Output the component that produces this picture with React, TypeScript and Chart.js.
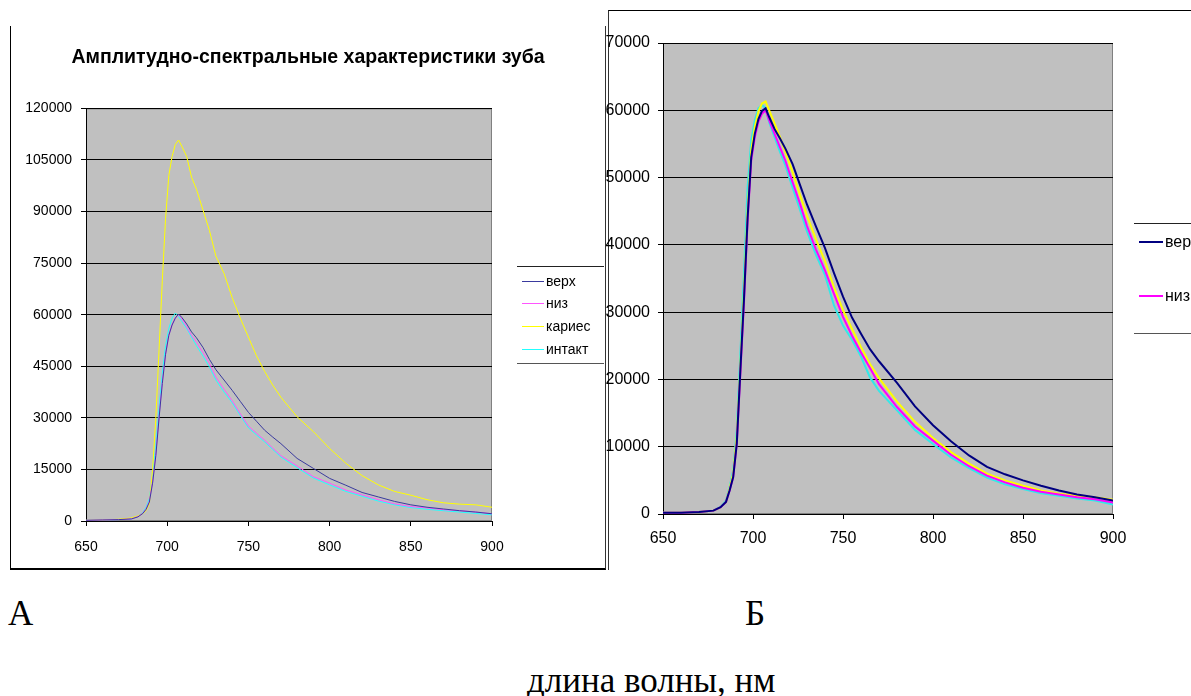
import React, { useEffect, useRef } from "react";
import { Chart, registerables } from "chart.js";

Chart.register(...registerables);

// Wavelength grid, nm
const wavelengthNm = [
  650, 660, 670, 678, 682, 685, 687, 689, 691, 693, 695, 697, 699, 701, 703,
  705, 707, 709, 712, 715, 718, 722, 726, 730, 735, 740, 745, 750, 755, 760,
  765, 770, 780, 790, 800, 810, 820, 830, 840, 850, 860, 870, 880, 890, 900,
];

const seriesLabels = ["верх", "низ", "кариес", "интакт"];

// Panel А: amplitude spectra, including the carious area
const verkhA = [
  200, 300, 400, 600, 1200, 2200, 3400, 5500, 11000, 19000, 30000, 40000, 48500, 54000, 57000,
  59000, 60200, 59200, 57300, 55000, 53300, 50500, 47000, 44000, 41000, 38000, 34800, 31600, 29000, 26400,
  24400, 22500, 18200, 15300, 12400, 10400, 8300, 7000, 5700, 4700, 4000, 3500, 3000, 2600, 2100,
];
const nizA = [
  200, 300, 400, 600, 1300, 2300, 3600, 5800, 11500, 19500, 30500, 40500, 48500, 54000, 57000,
  59000, 60000, 58800, 56500, 54000, 52000, 49000, 45800, 41800, 38300, 35000, 31200, 27600, 25500, 23500,
  21200, 19000, 16000, 12900, 11000, 9000, 7600, 6200, 5000, 4200, 3800, 3300, 3000, 2600, 2100,
];
const kariesA = [
  200, 300, 500, 900, 1500, 2200, 3000, 5000, 15000, 30000, 50000, 70000, 88000, 100500, 106000,
  109500, 110800, 109000, 106000, 100000, 96500, 90500, 84500, 77000, 72000, 65000, 59000, 53500, 48000, 43500,
  39500, 36000, 30300, 26000, 21100, 16800, 13200, 10500, 8600, 7500, 6200, 5300, 4900, 4700, 4000,
];
const intaktA = [
  200, 300, 400, 600, 1400, 2500, 4000, 6500, 13000, 22000, 33000, 43000, 51000, 56000, 59000,
  60500, 59500, 58000, 56000, 53500, 51000, 48000, 44800, 41000, 37500, 34400, 30700, 27100, 25000, 23000,
  20800, 18600, 15500, 12500, 10500, 8600, 7200, 5800, 4700, 3900, 3400, 3000, 2600, 2200, 1800,
];

// Panel Б
const verkhB = [
  200, 200, 300, 500, 1000, 1800, 3500, 5500, 10500, 21500, 32000, 44000, 53000, 56500, 58700,
  59900, 60300, 59000, 57200, 55800, 54300, 52000, 49000, 46000, 42700, 39500, 35800, 32300, 29200, 26800,
  24500, 22700, 19500, 16000, 13200, 10800, 8700, 7000, 5900, 5000, 4200, 3500, 2900, 2500, 2000,
];
const nizB = [
  200, 200, 300, 500, 1000, 1800, 3500, 5500, 10500, 21000, 31500, 43500, 52500, 56000, 58300,
  59500, 60000, 58500, 56500, 54500, 52500, 49300, 46200, 42800, 39300, 36200, 32700, 29300, 26500, 24000,
  21700, 19300, 15900, 13000, 10900, 8800, 7100, 5700, 4700, 3900, 3300, 2900, 2500, 2200, 1700,
];
const kariesB = [
  200, 200, 300, 500, 1000, 1800, 3800, 6000, 11500, 22000, 33000, 45000, 54000, 57500, 59800,
  61000, 61300, 60000, 58000, 56000, 53800, 50800, 47500, 44300, 40800, 37600, 33700, 30300, 27500, 24800,
  22300, 20200, 16700, 13700, 11300, 9200, 7500, 6000, 5000, 4200, 3500, 3000, 2700, 2500, 2100,
];
const intaktB = [
  200, 200, 300, 500, 1100, 2000, 4000, 6500, 12500, 24000, 36000, 48500, 55500, 58500, 60300,
  60800, 60300, 58200, 56000, 53800, 51800, 48500, 45300, 42000, 38500, 35500, 31000, 28000, 25900, 23400,
  20300, 18300, 15400, 12500, 10400, 8400, 6800, 5400, 4400, 3700, 3100, 2700, 2300, 2000, 1400,
];

const waveMin = 650;
const waveMax = 900;
const waveStep = 50;
const yMaxA = 120000;
const yStepA = 15000;
const yMaxB = 70000;
const yStepB = 10000;

const titleA = "Амплитудно-спектральные характеристики зуба";
const captionX = "длина волны, нм";

const colorsA = ["#3a3a9e", "#ff55ff", "#ffff00", "#22ffff"];
const colorsB = ["#000080", "#ff00ff", "#ffff00", "#33e8e8"];

const SANS = "'Liberation Sans', Arial, sans-serif";
const SERIF = "'Liberation Serif', 'Times New Roman', serif";

type PanelSpec = {
  width: number;
  height: number;
  series: number[][];
  colors: string[];
  lineWidth: number;
  yMax: number;
  yStep: number;
  fontSize: number;
  yAxisWidth: number;
  rightSpace: number;
  xAxisHeight: number;
  xTickPad: number;
  yTickPad: number;
  topPad: number;
  title?: string;
  titleSize?: number;
  titlePadTop?: number;
  titlePadBottom?: number;
};

const plotArea = {
  id: "plotArea",
  beforeDraw(chart: any) {
    const { ctx, chartArea: a } = chart;
    ctx.save();
    ctx.fillStyle = "#c0c0c0";
    ctx.fillRect(a.left, a.top, a.right - a.left, a.bottom - a.top);
    ctx.strokeStyle = "#808080";
    ctx.lineWidth = 1;
    ctx.strokeRect(a.left + 0.5, a.top + 0.5, a.right - a.left - 1, a.bottom - a.top - 1);
    ctx.restore();
  },
};

function buildConfig(p: PanelSpec): any {
  const font = { family: SANS, size: p.fontSize };
  return {
    type: "line",
    data: {
      datasets: p.series.map((vals, i) => ({
        label: seriesLabels[i],
        data: wavelengthNm.map((x, j) => ({ x, y: vals[j] })),
        borderColor: p.colors[i],
        backgroundColor: p.colors[i],
        borderWidth: p.lineWidth,
        pointRadius: 0,
        tension: 0,
        fill: false,
      })),
    },
    options: {
      responsive: false,
      animation: false,
      events: [],
      layout: { padding: { top: p.title ? 0 : p.topPad, left: 0, right: 0, bottom: 0 } },
      plugins: {
        legend: { display: false },
        tooltip: { enabled: false },
        title: p.title
          ? {
              display: true,
              text: p.title,
              color: "#000",
              font: { family: SANS, size: p.titleSize, weight: "bold" },
              padding: { top: p.titlePadTop, bottom: p.titlePadBottom },
            }
          : { display: false },
      },
      scales: {
        x: {
          type: "linear",
          min: waveMin,
          max: waveMax,
          ticks: {
            stepSize: waveStep,
            color: "#000",
            font,
            padding: p.xTickPad,
            maxRotation: 0,
            autoSkip: false,
            callback: (v: number) => String(v),
          },
          grid: { drawOnChartArea: false, drawTicks: true, tickLength: 5, color: "#000" },
          border: { display: true, color: "#000", width: 1 },
          afterFit: (s: any) => {
            s.height = p.xAxisHeight;
          },
        },
        y: {
          type: "linear",
          min: 0,
          max: p.yMax,
          ticks: {
            stepSize: p.yStep,
            color: "#000",
            font,
            padding: p.yTickPad,
            autoSkip: false,
            callback: (v: number) => String(v),
          },
          grid: { color: "#000", drawTicks: true, tickLength: 5, lineWidth: 1 },
          border: { display: true, color: "#000", width: 1 },
          afterFit: (s: any) => {
            s.width = p.yAxisWidth;
          },
        },
        legendSpace: {
          type: "linear",
          position: "right",
          display: true,
          ticks: { display: false },
          grid: { display: false },
          border: { display: false },
          afterFit: (s: any) => {
            s.width = p.rightSpace;
          },
        },
      },
    },
    plugins: [plotArea],
  };
}

function SpectrumCanvas({ spec, left, top }: { spec: PanelSpec; left: number; top: number }) {
  const ref = useRef<HTMLCanvasElement | null>(null);
  useEffect(() => {
    if (!ref.current) return;
    const chart = new Chart(ref.current, buildConfig(spec));
    return () => chart.destroy();
  }, [spec]);
  return (
    <canvas
      ref={ref}
      width={spec.width}
      height={spec.height}
      style={{ position: "absolute", left, top, width: spec.width, height: spec.height }}
    />
  );
}

function Legend({
  labels,
  colors,
  left,
  top,
  width,
  height,
  rowTops,
  fontSize,
  lineWidth,
  sampleWidth,
}: {
  labels: string[];
  colors: string[];
  left: number;
  top: number;
  width: number;
  height: number;
  rowTops: number[];
  fontSize: number;
  lineWidth: number;
  sampleWidth: number;
}) {
  return (
    <div
      style={{
        position: "absolute",
        left,
        top,
        width,
        height,
        borderTop: "1px solid #222",
        borderBottom: "1px solid #555",
        boxSizing: "border-box",
        overflow: "hidden",
      }}
    >
      {labels.map((label, i) => (
        <div
          key={label}
          style={{
            position: "absolute",
            left: 5,
            top: rowTops[i],
            height: fontSize,
            display: "flex",
            alignItems: "center",
            whiteSpace: "nowrap",
            fontFamily: SANS,
            fontSize,
            lineHeight: `${fontSize}px`,
            color: "#000",
          }}
        >
          <span
            style={{
              display: "inline-block",
              width: sampleWidth,
              height: lineWidth,
              background: colors[i],
              marginRight: 2,
            }}
          />
          {label}
        </div>
      ))}
    </div>
  );
}

const panelA: PanelSpec = {
  width: 594,
  height: 543,
  series: [verkhA, nizA, kariesA, intaktA],
  colors: colorsA,
  lineWidth: 1,
  yMax: yMaxA,
  yStep: yStepA,
  fontSize: 14,
  yAxisWidth: 75,
  rightSpace: 113,
  xAxisHeight: 48,
  xTickPad: 13,
  yTickPad: 9,
  topPad: 0,
  title: titleA,
  titleSize: 19.5,
  titlePadTop: 20,
  titlePadBottom: 39,
};

const panelB: PanelSpec = {
  width: 587,
  height: 559,
  series: [verkhB, nizB, kariesB, intaktB],
  colors: colorsB,
  lineWidth: 2,
  yMax: yMaxB,
  yStep: yStepB,
  fontSize: 16,
  yAxisWidth: 59,
  rightSpace: 78,
  xAxisHeight: 56,
  xTickPad: 10,
  yTickPad: 8,
  topPad: 32,
};

export default function App() {
  return (
    <div
      style={{
        position: "fixed",
        left: 0,
        top: 0,
        width: 1191,
        height: 696,
        overflow: "hidden",
        background: "#fff",
      }}
    >
      {/* panel А frame */}
      <div
        style={{
          position: "absolute",
          left: 10,
          top: 26,
          width: 596,
          height: 544,
          borderLeft: "1px solid #000",
          borderBottom: "2px solid #000",
          borderRight: "1px solid #333",
          boxSizing: "border-box",
        }}
      />
      <SpectrumCanvas spec={panelA} left={11} top={26} />
      <Legend
        labels={seriesLabels}
        colors={colorsA}
        left={517}
        top={266}
        width={87}
        height={98}
        rowTops={[7, 29, 52, 75]}
        fontSize={14}
        lineWidth={1}
        sampleWidth={22}
      />

      {/* panel Б frame */}
      <div
        style={{
          position: "absolute",
          left: 608,
          top: 10,
          width: 600,
          height: 560,
          borderLeft: "1px solid #333",
          borderTop: "1px solid #000",
          boxSizing: "border-box",
        }}
      />
      <SpectrumCanvas spec={panelB} left={604} top={11} />
      <Legend
        labels={seriesLabels.slice(0, 2)}
        colors={colorsB.slice(0, 2)}
        left={1134}
        top={223}
        width={80}
        height={111}
        rowTops={[10, 64]}
        fontSize={16}
        lineWidth={2}
        sampleWidth={24}
      />

      <div style={{ position: "absolute", left: 8, top: 596, fontFamily: SERIF, fontSize: 35, lineHeight: "35px", color: "#000" }}>
        А
      </div>
      <div style={{ position: "absolute", left: 745, top: 596, fontFamily: SERIF, fontSize: 35, lineHeight: "35px", color: "#000" }}>
        Б
      </div>
      <div style={{ position: "absolute", left: 527, top: 663, fontFamily: SERIF, fontSize: 35, lineHeight: "35px", color: "#000", whiteSpace: "nowrap" }}>
        {captionX}
      </div>
    </div>
  );
}
